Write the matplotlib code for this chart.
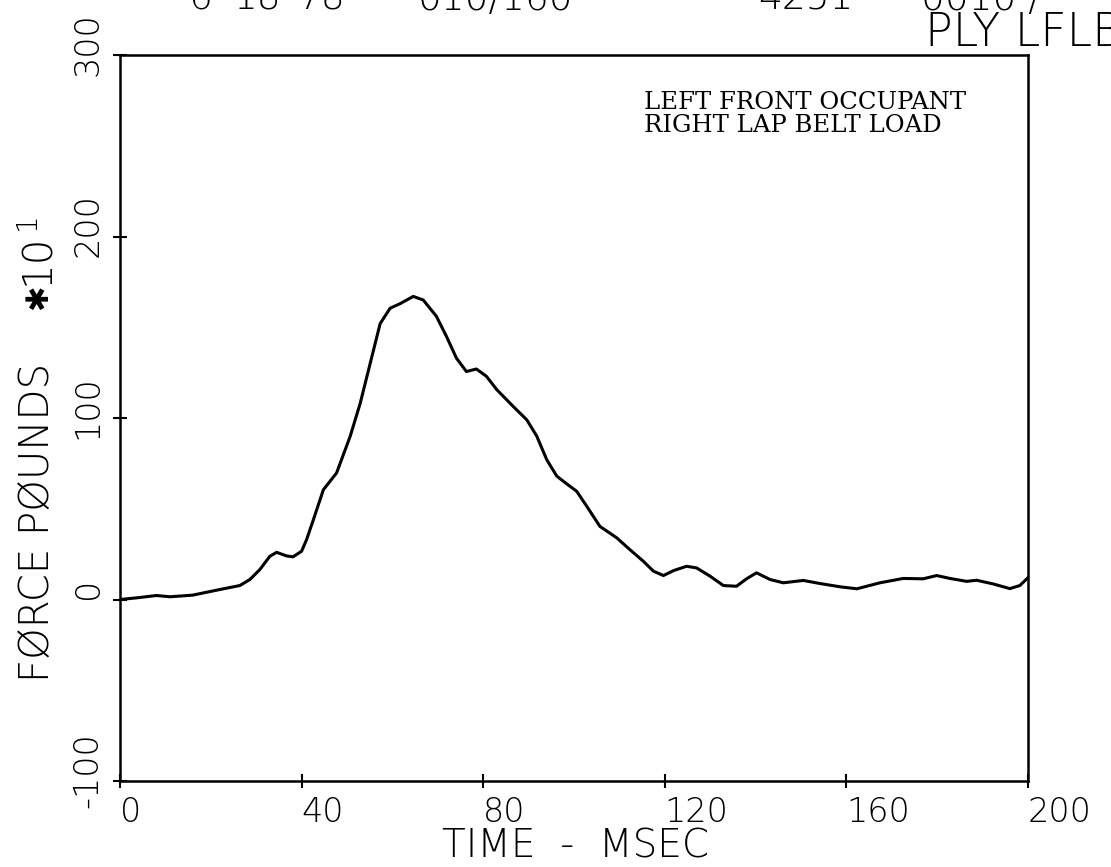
import matplotlib
matplotlib.use("Agg")
import matplotlib.pyplot as plt
import matplotlib.transforms as mtransforms

# Okunan degerler (kuvvet * 10 pound, zaman msec)
time_ms = [0, 4, 8, 11, 16, 22, 26.4, 28.6, 30.8, 33, 34.5, 36.7, 38.1, 40,
           41.1, 42.6, 44.8, 47.7, 50.7, 52.9, 55.1, 57.3, 59.5, 61.7, 64.6,
           66.8, 69.7, 71.9, 74.1, 76.3, 78.5, 80.7, 83, 86.6, 89.6, 91.8,
           94, 96.2, 98.4, 100.6, 102.8, 105.7, 109.4, 112.3, 115.3, 117.5,
           119.7, 122, 124.8, 127, 130, 132.9, 135.8, 138, 140.2, 143.2,
           146.1, 150.5, 154.2, 158.6, 162.3, 167.4, 172.5, 176.9, 179.9,
           182.8, 186.5, 188.7, 192.3, 196, 198.2, 200]
force = [0, 1, 2.2, 1.5, 2.4, 5.5, 7.7, 11, 16.5, 23.8, 26, 24, 23.5, 26.6,
         33, 44, 60.5, 69.7, 89.9, 108, 130, 152, 160.5, 163, 167,
         165, 156, 145, 133, 125.6, 127, 123, 115.6, 106.4, 99, 90,
         77, 68, 63.7, 59.6, 51.4, 40.3, 34, 27.5, 21, 15.6,
         13.2, 16, 18.3, 17.4, 12.8, 7.7, 7.3, 11.4, 14.7, 11,
         9.2, 10.5, 8.8, 7, 5.9, 9.2, 11.6, 11.4, 13.2,
         11.6, 10, 10.6, 8.6, 6, 7.7, 12]

x_ticks = [0, 40, 80, 120, 160, 200]
y_ticks = [-100, 0, 100, 200, 300]

header_parts = [("6", 188), ("18", 234), ("78", 298), ("010/160", 418),
                ("4251", 758), ("0010 /", 921)]

W, H = 1111, 867
fig = plt.figure(figsize=(W / 100, H / 100), dpi=100)
fig.patch.set_facecolor("white")

# eksen kutusu (piksel olcumlerinden)
left, right, top, bottom = 120, 1028, 55, 781
ax = fig.add_axes([left / W, 1 - bottom / H, (right - left) / W, (bottom - top) / H])

ax.plot(time_ms, force, color="black", lw=2.2, solid_joinstyle="round")
ax.set_xlim(0, 200)
ax.set_ylim(-100, 300)

for s in ax.spines.values():
    s.set_linewidth(1.8)

ax.set_xticks(x_ticks)
ax.set_yticks(y_ticks)
ax.tick_params(direction="inout", length=10, width=1.5, labelsize=24)
ax.tick_params(axis="x", pad=6)
ax.tick_params(axis="y", pad=6)
ax.set_xticklabels([str(v) for v in x_ticks], ha="left", fontweight="light")
ax.set_yticklabels([str(v) for v in y_ticks], rotation=90, va="center",
                   fontweight="light")

# y etiketleri biraz yukari kayik
up = mtransforms.ScaledTranslation(0, 11 / 100, fig.dpi_scale_trans)
for lab in ax.get_yticklabels():
    lab.set_transform(lab.get_transform() + up)

fig.text(575 / W, 1 - 847 / H, "TIME  -  MSEC", ha="center", va="center",
         fontsize=28, fontweight="light")

# y ekseni basligi: parcali (yildiz ve ust simge ayri)
fig.text(38 / W, 1 - 522 / H, "FØRCE PØUNDS", rotation=90,
         ha="center", va="center", fontsize=29, fontweight="light")
fig.text(39 / W, 1 - 297 / H, "✱", rotation=90,
         ha="center", va="center", fontsize=22)
fig.text(38 / W, 1 - 259 / H, "10", rotation=90,
         ha="center", va="center", fontsize=29, fontweight="light")
fig.text(27 / W, 1 - 221 / H, "1", rotation=90,
         ha="center", va="center", fontsize=20, fontweight="light")

ax.text(0.577, 0.95, "LEFT FRONT OCCUPANT\nRIGHT LAP BELT LOAD",
        transform=ax.transAxes, ha="left", va="top", family="DejaVu Serif",
        fontsize=17.5, linespacing=0.98)

fig.text(925 / W, 1 - 46 / H, "PLY LFLB", ha="left", va="baseline",
         fontsize=33, fontweight="light")

# ustte kesik kalan baslik satiri
for txt, xp in header_parts:
    fig.text(xp / W, 1 - 10 / H, txt, ha="left", va="baseline", fontsize=27,
             fontweight="light")

fig.savefig("out.png", dpi=100, facecolor="white")
